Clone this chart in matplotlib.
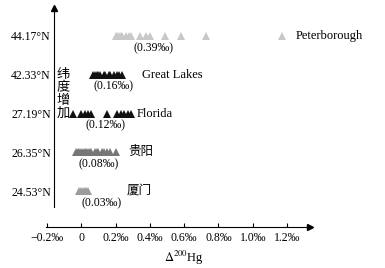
import numpy as np
import matplotlib
matplotlib.use('Agg')
import matplotlib.pyplot as plt

plt.rcParams['font.family'] = ['Liberation Serif', 'Noto Sans CJK SC', 'DejaVu Sans']
plt.rcParams['mathtext.fontset'] = 'stix'

# data, bottom row first
sites = ['厦门', '贵阳', 'Florida', 'Great Lakes', 'Peterborough']
lat_labels = ['24.53°N', '26.35°N', '27.19°N', '42.33°N', '44.17°N']
mean_labels = ['(0.03‰)', '(0.08‰)', '(0.12‰)', '(0.16‰)', '(0.39‰)']
xiamen = [-0.01, 0.0, 0.01, 0.02, 0.03, 0.04]
guiyang = [-0.03, -0.02, -0.01, 0.0, 0.01, 0.02, 0.03, 0.04, 0.05, 0.06,
           0.08, 0.09, 0.10, 0.12, 0.13, 0.15, 0.17, 0.20]
florida = [-0.045, 0.0, 0.02, 0.04, 0.06, 0.15, 0.21, 0.23, 0.25, 0.27, 0.29]
great_lakes = [0.07, 0.08, 0.09, 0.10, 0.11, 0.13, 0.14, 0.16, 0.17, 0.19,
               0.21, 0.22, 0.24]
peterborough = [0.20, 0.21, 0.22, 0.23, 0.24, 0.26, 0.28, 0.29, 0.34, 0.38,
                0.40, 0.49, 0.58, 0.73, 1.17]
series = [xiamen, guiyang, florida, great_lakes, peterborough]
xticks = [-0.2, 0.0, 0.2, 0.4, 0.6, 0.8, 1.0, 1.2]
xtick_labels = ['−0.2‰', '0', '0.2‰', '0.4‰', '0.6‰', '0.8‰', '1.0‰', '1.2‰']

# styling / layout
colors = ['#9c9c9c', '#767676', '#111111', '#111111', '#c8c8c8']
name_x = [0.267, 0.273, 0.326, 0.354, 1.25]
mean_x = [0.118, 0.104, 0.139, 0.186, 0.42]

fig = plt.figure(figsize=(3.85, 2.68), dpi=100)
ax = fig.add_axes([0, 0, 1, 1])
ax.set_xlim(-0.4735, 1.7714)
ax.set_ylim(-1.987, 4.929)

for k, vals in enumerate(series):
    ax.plot(vals, [k] * len(vals), linestyle='none', marker='^', ms=6,
            color=colors[k], markeredgewidth=0)
    ax.text(name_x[k], k, sites[k], fontsize=9, ha='left', va='center')
    ax.text(mean_x[k], k - 0.31, mean_labels[k], fontsize=8.5,
            ha='center', va='center')

# axes as arrows
for s in ['top', 'right']:
    ax.spines[s].set_visible(False)
ax.spines['bottom'].set_position(('data', -0.921))
ax.spines['bottom'].set_bounds(-0.205, 1.32)
ax.spines['left'].set_position(('data', -0.157))
ax.spines['left'].set_bounds(-0.41, 4.68)
ax.plot([1.334], [-0.921], marker='>', ms=5, color='black', clip_on=False)
ax.plot([-0.157], [4.72], marker='^', ms=5, color='black', clip_on=False)

ax.set_xticks(xticks)
ax.set_xticklabels(xtick_labels)
ax.tick_params(axis='x', direction='in', length=3, width=0.8, pad=4,
               labelsize=8.5)
ax.set_yticks(range(len(sites)))
ax.set_yticklabels(lat_labels)
ax.tick_params(axis='y', length=0, pad=2.5, labelsize=8.5)

ax.text(0.602, -1.72, r'$\Delta^{200}$Hg', fontsize=9, ha='center', va='center')

# vertical label
for i, ch in enumerate('纬度增加'):
    ax.text(-0.104, 3.0 - i * 0.335, ch, fontsize=9.5, ha='center', va='center',
            family=['Noto Sans CJK SC'])

fig.savefig('out.png', dpi=100)
